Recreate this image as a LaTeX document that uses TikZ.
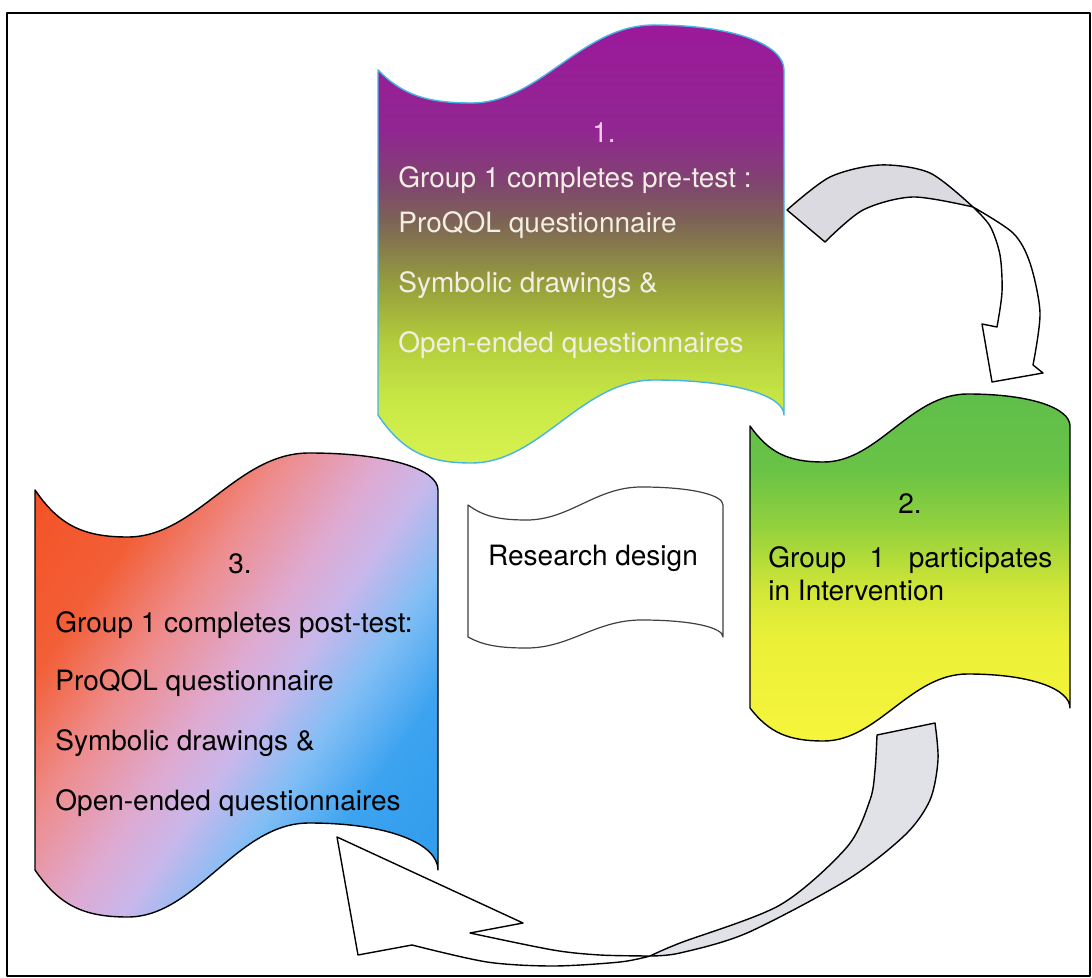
\documentclass[tikz,border=0pt]{standalone}
\usepackage{fontspec}
\setmainfont{TeX Gyre Heros}
\usepackage{xcolor}

\definecolor{onea}{RGB}{215,242,80}
\definecolor{oneb}{RGB}{200,232,70}
\definecolor{onec}{RGB}{180,205,60}
\definecolor{oned}{RGB}{150,160,60}
\definecolor{onee}{RGB}{125,100,85}
\definecolor{onef}{RGB}{128,68,112}
\definecolor{oneg}{RGB}{145,38,145}
\definecolor{oneh}{RGB}{155,25,155}
\definecolor{oneline}{RGB}{70,180,230}
\definecolor{onetxt}{RGB}{242,238,228}

\definecolor{twoa}{RGB}{245,245,60}
\definecolor{twob}{RGB}{235,240,55}
\definecolor{twoc}{RGB}{210,230,55}
\definecolor{twod}{RGB}{150,210,60}
\definecolor{twoe}{RGB}{105,195,70}
\definecolor{twof}{RGB}{95,190,75}

\definecolor{threea}{RGB}{245,80,35}
\definecolor{threeb}{RGB}{242,95,55}
\definecolor{threec}{RGB}{238,140,140}
\definecolor{threed}{RGB}{222,170,210}
\definecolor{threee}{RGB}{200,183,235}
\definecolor{threef}{RGB}{130,190,245}
\definecolor{threeg}{RGB}{60,163,240}
\definecolor{threeh}{RGB}{45,155,235}

\definecolor{arrowgrey}{RGB}{218,218,224}
\definecolor{arrowgreyb}{RGB}{224,226,232}

\pgfdeclareverticalshading{onefill}{100bp}{color(0bp)=(onea); color(25bp)=(onea);
  color(32bp)=(oneb); color(38.7bp)=(onec); color(45.3bp)=(oned); color(52.5bp)=(onee);
  color(57bp)=(onef); color(63bp)=(oneg); color(75bp)=(oneh); color(100bp)=(oneh)}
\pgfdeclareverticalshading{twofill}{100bp}{color(0bp)=(twoa); color(25bp)=(twoa);
  color(39.6bp)=(twob); color(46.8bp)=(twoc); color(55.4bp)=(twod); color(64bp)=(twoe);
  color(75bp)=(twof); color(100bp)=(twof)}
\pgfdeclarehorizontalshading{threefill}{100bp}{color(0bp)=(threea); color(25bp)=(threea);
  color(35.3bp)=(threeb); color(42.2bp)=(threec); color(49.1bp)=(threed); color(53.4bp)=(threee);
  color(58.6bp)=(threef); color(64.7bp)=(threeg); color(75bp)=(threeh); color(100bp)=(threeh)}

% [options]{left}{right}{top y}{top dip}{top hump}{bottom y}{bottom dip}{bottom hump}
\newcommand\tape[9][]{%
  \path[#1] (#2,#4)
    .. controls ({#2+.06*(#3-#2)},{#4+.75*#5}) and ({#2+.12*(#3-#2)},{#4+#5}) .. ({#2+.23*(#3-#2)},{#4+#5})
    .. controls ({#2+.40*(#3-#2)},{#4+#5}) and ({#2+.50*(#3-#2)},{#4-#6}) .. ({#2+.68*(#3-#2)},{#4-#6})
    .. controls ({#2+.88*(#3-#2)},{#4-#6}) and (#3,{#4-.55*#6}) .. (#3,#4)
    -- (#3,#7)
    .. controls (#3,{#7-.55*#9}) and ({#2+.88*(#3-#2)},{#7-#9}) .. ({#2+.68*(#3-#2)},{#7-#9})
    .. controls ({#2+.50*(#3-#2)},{#7-#9}) and ({#2+.40*(#3-#2)},{#7+#8}) .. ({#2+.23*(#3-#2)},{#7+#8})
    .. controls ({#2+.12*(#3-#2)},{#7+#8}) and ({#2+.06*(#3-#2)},{#7+.75*#8}) .. (#2,#7)
    -- cycle;}

\begin{document}
\begin{tikzpicture}[x=0.5pt,y=-0.5pt,line join=round,
  tapeline/.style={line width=0.7pt},
  boxtext/.style={anchor=base west,inner sep=0pt,font=\fontsize{14}{16}\selectfont},
  numtext/.style={boxtext,anchor=base},
  arrowline/.style={draw=black,line width=0.7pt}]
  \useasboundingbox[fill=white] (0,0) rectangle (1092,978);
  \draw[line width=1.1pt] (7,13) rectangle (1090,976);

  % box 3
  \begin{scope}
    \tape[clip]{35}{438}{490}{47}{37}{870}{47}{47}
    \begin{scope}[transform canvas={rotate around={-35:(236,685)}}]
      \shade[shading=threefill] (-54,395) rectangle (526,975);
    \end{scope}
  \end{scope}
  \tape[draw=black,tapeline]{35}{438}{490}{47}{37}{870}{47}{47}

  % box 1
  \tape[shading=onefill,draw=oneline,tapeline]{378}{784}{70}{33}{45}{415}{48}{35}
  % box 2
  \tape[shading=twofill,draw=black,tapeline]{750}{1070}{426}{36}{32}{708}{33}{34}
  % centre box
  \tape[fill=white,draw=black!75,line width=0.6pt]{468}{723}{505}{15}{18}{637}{11}{17}

  % arrow 1 -> 2
  \coordinate (a1t) at (787,210);
  \coordinate (a1s) at (825,242);
  \coordinate (a1x) at (973,207);
  \coordinate (a1j) at (997,327);
  \coordinate (a1b) at (982,324);
  \coordinate (a1p) at (992,382);
  \coordinate (a1q) at (1043,373);
  \coordinate (a1k) at (1033,365);
  \filldraw[fill=white,arrowline] (a1x) -- plot[smooth] coordinates {(a1x) (990,226) (1000,255) (1002,292) (a1j)}
    -- (a1b) -- (a1p) -- (a1q) -- (a1k)
    -- plot[smooth] coordinates {(a1k) (1040,313) (1030,263) (1013,233) (a1x)} -- cycle;
  \filldraw[fill=arrowgrey,arrowline] (a1t) -- plot[smooth] coordinates {(a1t) (830,177) (880,165) (930,173) (a1x)}
    -- plot[smooth] coordinates {(a1x) (913,197) (863,210) (a1s)} -- cycle;

  % arrow 2 -> 3
  \coordinate (a2l) at (877,735);
  \coordinate (a2r) at (935,723);
  \coordinate (a2x) at (650,956);
  \coordinate (a2j) at (470,933);
  \coordinate (a2b) at (523,923);
  \coordinate (a2p) at (337,837);
  \coordinate (a2q) at (358,955);
  \coordinate (a2k) at (412,945);
  \filldraw[fill=arrowgreyb,arrowline] (a2l) -- (a2r)
    -- plot[smooth] coordinates {(a2r) (938,760) (930,800) (905,835) (847,880) (747,933) (680,953) (a2x)}
    -- plot[smooth] coordinates {(a2x) (680,943) (780,905) (847,847) (870,800) (875,770) (a2l)} -- cycle;
  \filldraw[fill=white,arrowline] (a2x) -- plot[smooth] coordinates {(a2x) (600,955) (553,950) (a2j)}
    -- (a2b) -- (a2p) -- (a2q) -- (a2k)
    -- plot[smooth] coordinates {(a2k) (487,962) (553,966) (620,962) (a2x)} -- cycle;

  % texts
  \node[numtext,text=onetxt!85!magenta] (n1) at (604,143) {1.};
  \node[boxtext,text=onetxt] (n1a) at (398,188) {Group 1 completes pre-test :};
  \node[boxtext,text=onetxt] (n1b) at (398,233) {ProQOL questionnaire};
  \node[boxtext,text=onetxt] (n1c) at (398,293) {Symbolic drawings \&};
  \node[boxtext,text=onetxt] (n1d) at (398,353) {Open-ended questionnaires};

  \node[numtext] (n2) at (910,513) {2.};
  \node[boxtext] (n2a) at (768,567) {\makebox[142pt][s]{Group 1 participates}};
  \node[boxtext] (n2b) at (768,600) {in Intervention};

  \node[numtext] (n3) at (240,573) {3.};
  \node[boxtext] (n3a) at (55,632) {Group 1 completes post-test:};
  \node[boxtext] (n3b) at (55,690) {ProQOL questionnaire};
  \node[boxtext] (n3c) at (55,750) {Symbolic drawings \&};
  \node[boxtext] (n3d) at (55,810) {Open-ended questionnaires};

  \node[numtext] (rd) at (593,565) {Research design};
\end{tikzpicture}
\end{document}
